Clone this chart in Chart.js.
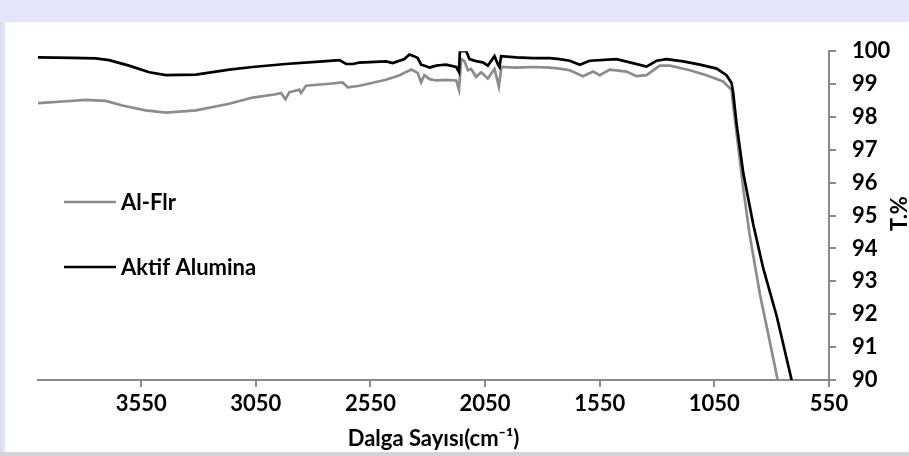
<!DOCTYPE html>
<html>
<head>
<meta charset="utf-8">
<script src="https://cdn.jsdelivr.net/npm/chart.js@4.4.1/dist/chart.umd.min.js"></script>
<style>
  html, body { margin: 0; padding: 0; }
  body { width: 909px; height: 456px; overflow: hidden; position: relative;
         background: linear-gradient(to right, #d6daf0 0px, #e3e6f8 5px); }
  #topband { position: absolute; left: 0; top: 0; width: 909px; height: 22px; background: #e2e6f8; }
  #panel { position: absolute; left: 5px; top: 22px; width: 904px; height: 430px; background: #ffffff; }
  #bottom { position: absolute; left: 0; top: 452px; width: 909px; height: 4px; background: #d4d4d8; }
  canvas { display: block; }
</style>
</head>
<body>
<div id="topband"></div>
<div id="panel"><canvas id="c" width="904" height="430"></canvas></div>
<div id="bottom"></div>
<script>
// ---- data ----
const seriesNames = ['Al-Flr', 'Aktif Alumina'];

const alFlrWn = [4000, 3893, 3791, 3704, 3632, 3530, 3442, 3311, 3166, 3064, 2962, 2940, 2921, 2904, 2860, 2853, 2831, 2729, 2671, 2649, 2598, 2482, 2423, 2394, 2372, 2344, 2329, 2315, 2292, 2263, 2220, 2176, 2164, 2154, 2140, 2125, 2111, 2089, 2067, 2038, 2009, 1990, 1979, 1914, 1841, 1768, 1725, 1681, 1623, 1579, 1550, 1506, 1433, 1390, 1346, 1288, 1244, 1157, 1084, 1012, 990, 975, 968, 946, 924, 895, 851, 808, 774];
const alFlrT  = [98.42, 98.47, 98.52, 98.49, 98.35, 98.20, 98.13, 98.20, 98.40, 98.59, 98.69, 98.73, 98.54, 98.75, 98.83, 98.73, 98.95, 99.01, 99.05, 98.90, 98.95, 99.13, 99.27, 99.37, 99.44, 99.34, 99.05, 99.27, 99.15, 99.11, 99.13, 99.11, 98.83, 99.76, 99.70, 99.42, 99.46, 99.22, 99.36, 99.17, 99.46, 98.93, 99.52, 99.50, 99.52, 99.50, 99.47, 99.42, 99.24, 99.38, 99.27, 99.44, 99.38, 99.24, 99.27, 99.56, 99.56, 99.42, 99.27, 99.08, 98.93, 98.83, 98.35, 97.10, 95.82, 94.37, 92.60, 91.16, 90.00];

const aktifWn = [4000, 3850, 3748, 3690, 3603, 3515, 3442, 3311, 3166, 3064, 2921, 2773, 2685, 2656, 2627, 2600, 2482, 2453, 2402, 2380, 2360, 2344, 2329, 2310, 2292, 2263, 2240, 2220, 2176, 2164, 2160, 2132, 2118, 2100, 2089, 2060, 2038, 2009, 1994, 1987, 1980, 1914, 1841, 1768, 1725, 1681, 1637, 1594, 1477, 1419, 1346, 1302, 1259, 1186, 1113, 1040, 997, 975, 968, 953, 924, 881, 837, 778, 713];
const aktifT  = [99.81, 99.80, 99.78, 99.73, 99.56, 99.36, 99.27, 99.29, 99.44, 99.52, 99.61, 99.68, 99.73, 99.61, 99.61, 99.65, 99.69, 99.64, 99.76, 99.90, 99.85, 99.79, 99.59, 99.55, 99.50, 99.56, 99.58, 99.59, 99.52, 99.37, 100.0, 100.0, 99.76, 99.72, 99.70, 99.66, 99.56, 99.85, 99.60, 99.52, 99.85, 99.81, 99.79, 99.79, 99.76, 99.71, 99.59, 99.71, 99.76, 99.66, 99.53, 99.71, 99.76, 99.69, 99.59, 99.47, 99.27, 99.03, 98.74, 97.78, 96.30, 94.75, 93.40, 91.94, 90.00];

const xTickValues = [3550, 3050, 2550, 2050, 1550, 1050, 550];
const yTickValues = [90, 91, 92, 93, 94, 95, 96, 97, 98, 99, 100];
const xTitle = 'Dalga Sayısı(cm⁻¹)';
const yTitle = 'T.%';

// ---- styling ----
const FONT = 'Lato';
const FSIZE = 22;
const AXIS_GRAY = '#8a8a8a';
const legendYs = [180, 245];

const toPts = (xs, ys) => xs.map((x, i) => ({ x: x, y: ys[i] }));

const overlay = {
  id: 'overlay',
  afterDraw(chart) {
    const ctx = chart.ctx;
    ctx.save();
    chart.data.datasets.forEach((ds, i) => {
      const y = legendYs[i];
      ctx.strokeStyle = ds.borderColor;
      ctx.lineWidth = 2.5;
      ctx.beginPath();
      ctx.moveTo(59, y);
      ctx.lineTo(111, y);
      ctx.stroke();
      ctx.fillStyle = '#000';
      ctx.font = 'bold ' + FSIZE + 'px ' + FONT;
      ctx.textBaseline = 'middle';
      ctx.textAlign = 'left';
      ctx.fillText(ds.label, 116, y + 1);
    });
    ctx.translate(chart.chartArea.right + 71, (chart.chartArea.top + chart.chartArea.bottom) / 2 - 2);
    ctx.rotate(-Math.PI / 2);
    ctx.textAlign = 'center';
    ctx.textBaseline = 'middle';
    ctx.font = 'bold ' + FSIZE + 'px ' + FONT;
    ctx.fillStyle = '#000';
    ctx.fillText(yTitle, 0, 0);
    ctx.restore();
  }
};

function build() {
  new Chart(document.getElementById('c'), {
    type: 'line',
    data: {
      datasets: [
        { label: seriesNames[0], data: toPts(alFlrWn, alFlrT), borderColor: '#8c8c8c', borderWidth: 2.7, pointRadius: 0, tension: 0, order: 2 },
        { label: seriesNames[1], data: toPts(aktifWn, aktifT), borderColor: '#000000', borderWidth: 2.7, pointRadius: 0, tension: 0, order: 1 }
      ]
    },
    options: {
      responsive: false,
      devicePixelRatio: 1,
      animation: false,
      layout: { padding: { left: 33, top: 15, right: 0, bottom: 0 } },
      plugins: { legend: { display: false }, tooltip: { enabled: false } },
      scales: {
        x: {
          type: 'linear',
          reverse: true,
          min: 550,
          max: 4000,
          afterBuildTicks: s => { s.ticks = xTickValues.map(v => ({ value: v })); },
          afterFit: s => { s.height = 72; },
          border: { display: true, color: AXIS_GRAY, width: 2 },
          grid: { drawOnChartArea: false, drawTicks: true, tickLength: 7, color: AXIS_GRAY, lineWidth: 2 },
          ticks: { autoSkip: false, maxRotation: 0, padding: 4, color: '#000',
                   font: { family: FONT, weight: 'bold', size: FSIZE },
                   callback: v => String(v) },
          title: { display: true, text: xTitle, color: '#000', padding: { top: 0, bottom: 0 },
                   font: { family: FONT, weight: 'bold', size: FSIZE } }
        },
        y: {
          type: 'linear',
          position: 'right',
          min: 90,
          max: 100,
          afterBuildTicks: s => { s.ticks = yTickValues.map(v => ({ value: v })); },
          afterFit: s => { s.width = 80; },
          border: { display: true, color: AXIS_GRAY, width: 2 },
          grid: { drawOnChartArea: false, drawTicks: true, tickLength: 7, color: AXIS_GRAY, lineWidth: 2 },
          ticks: { padding: 16, color: '#000', crossAlign: 'near',
                   font: { family: FONT, weight: 'bold', size: FSIZE },
                   callback: v => String(v) }
        }
      }
    },
    plugins: [overlay]
  });
}

if (document.fonts && document.fonts.load) {
  Promise.all([document.fonts.load('bold 22px Lato')]).then(build, build);
} else { build(); }
</script>
</body>
</html>
